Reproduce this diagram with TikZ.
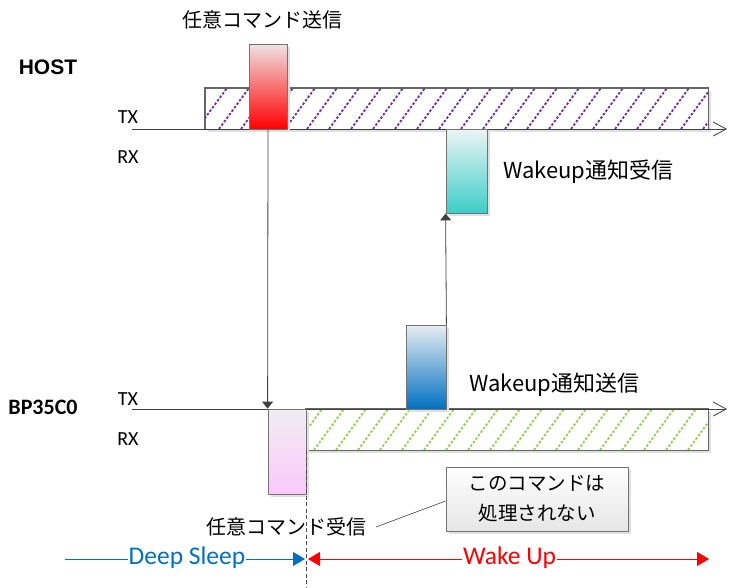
\documentclass[tikz,border=0pt]{standalone}
\usepackage{fontspec}
\setmainfont{Noto Sans CJK JP}
\newfontfamily\latf{Liberation Sans}
\newfontfamily\calf{Carlito}
\usetikzlibrary{arrows.meta,shadows}
\definecolor{hpurple}{HTML}{7030A0}
\definecolor{hgreen}{HTML}{92D050}
\definecolor{dsblue}{HTML}{0070C0}
\definecolor{lineg}{HTML}{404040}
\begin{document}
\begin{tikzpicture}[x=1pt,y=-1pt,
  bar/.style={draw=black!55, line width=0.8pt, inner sep=0pt,
    drop shadow={shadow xshift=3pt, shadow yshift=-3pt, fill=black!12, opacity=1}},
  hbox/.style={draw=black!60, line width=0.8pt, inner sep=0pt, fill=white,
    drop shadow={shadow xshift=3pt, shadow yshift=-3pt, fill=black!12, opacity=1}},
  hatchP/.style={hpurple, line width=1.8pt, dash pattern=on 2.5pt off 1.8pt},
  hatchG/.style={hgreen, line width=1.8pt, dash pattern=on 2.5pt off 1.8pt},
  axis/.style={lineg, line width=0.8pt, -{Straight Barb[length=13pt,width=14pt,line width=0.8pt]}},
  sig/.style={lineg, line width=0.8pt, -{Triangle[length=7pt,width=11pt]}},
  lbl/.style={font=\calf\fontsize{20}{22}\selectfont, inner sep=0pt},
  hostf/.style={font=\latf\bfseries\fontsize{21}{23}\selectfont, inner sep=0pt},
  devf/.style={font=\calf\bfseries\fontsize{22}{24}\selectfont, inner sep=0pt},
  jp/.style={font=\fontsize{20}{24}\selectfont, inner sep=0pt},
  jpl/.style={font=\fontsize{22}{26}\selectfont, inner sep=0pt},
  note/.style={draw=black!55, line width=0.8pt, top color=white, bottom color=black!10,
    minimum width=182pt, minimum height=64pt, align=center, inner sep=0pt,
    font=\fontsize{19.5}{30}\selectfont,
    drop shadow={shadow xshift=3pt, shadow yshift=-3pt, fill=black!12, opacity=1}},
  phase/.style={font=\calf\fontsize{25.5}{27}\selectfont, fill=white, inner sep=1pt}
]
\useasboundingbox (0,0) rectangle (733,587);

% device labels
\node[hostf] (host) at (48,67) {HOST};
\node[devf] (bp) at (43,407) {BP35C0};
\node[lbl] (htx) at (128,117) {TX};
\node[lbl] (hrx) at (128,157) {RX};
\node[lbl] (btx) at (128,399) {TX};
\node[lbl] (brx) at (128,439) {RX};

% host hatched box
\node[hbox, minimum width=503pt, minimum height=41pt] (hostbox) at (456.5,108.5) {};
\begin{scope}
  \clip (hostbox.south west) rectangle (hostbox.north east);
  \foreach \o in {175,197,...,720} \draw[hatchP] (\o,129) -- ++(30,-41);
\end{scope}
\draw[black!60, line width=0.8pt] (hostbox.south west) rectangle (hostbox.north east);

% bp hatched box
\node[hbox, minimum width=402pt, minimum height=41pt] (bpbox) at (507,429.5) {};
\begin{scope}
  \clip (bpbox.south west) rectangle (bpbox.north east);
  \foreach \o in {270,292,...,720} \draw[hatchG] (\o,450) -- ++(30,-41);
\end{scope}
\draw[black!60, line width=0.8pt] (bpbox.south west) rectangle (bpbox.north east);

% TX axes
\coordinate (hA) at (132,129);
\coordinate (hB) at (727,129);
\coordinate (bA) at (132,409);
\coordinate (bB) at (727,409);
\draw[axis] (hA) -- (hB);
\draw[axis] (bA) -- (bB);

% bars
\node[bar, minimum width=38pt, minimum height=85pt, top color={rgb,255:red,240;green,226;blue,228}, bottom color={rgb,255:red,255;green,0;blue,0}] (red) at (268,86.5) {};
\node[bar, minimum width=41pt, minimum height=84pt, top color={rgb,255:red,236;green,244;blue,244}, bottom color={rgb,255:red,60;green,206;blue,200}] (teal) at (466.5,171) {};
\node[bar, minimum width=40pt, minimum height=84pt, top color={rgb,255:red,232;green,238;blue,242}, bottom color={rgb,255:red,0;green,112;blue,192}] (blue) at (426,367) {};
\node[bar, minimum width=38pt, minimum height=85pt, top color={rgb,255:red,240;green,238;blue,242}, bottom color={rgb,255:red,251;green,200;blue,251}] (pink) at (287,451.5) {};

% bar labels
\node[jp] (sendlbl) at (262,20) {任意コマンド送信};
\node[jpl, anchor=west] (wrlbl) at (503,172) {Wakeup通知受信};
\node[jpl, anchor=west] (wslbl) at (469,385) {Wakeup通知送信};

% signal connectors
\draw[sig] (red.south) -- (pink.north west);
\draw[sig] (blue.north east) -- (teal.south west);

% receive label and callout
\node[jp] (recv) at (286.5,527) {任意コマンド受信};
\node[note] (callout) at (537,499) {このコマンドは\\処理されない};
\coordinate (recvtail) at (376,527);
\draw[black!75, line width=0.6pt] (recvtail) -- ([yshift=-2pt]callout.west);

% dashed boundary
\coordinate (dtop) at (306,450);
\coordinate (dbot) at (306,587);
\draw[black!70, line width=0.8pt, dash pattern=on 4pt off 2.5pt] (dtop) -- (dbot);

% phases
\coordinate (ds0) at (65,559);
\coordinate (ds1) at (305,559);
\coordinate (wu0) at (308,559);
\coordinate (wu1) at (709,559);
\draw[dsblue, line width=0.8pt, -{Triangle[length=12pt,width=14pt]}] (ds0) -- (ds1);
\draw[red, line width=0.8pt, {Triangle[length=12pt,width=14pt]}-{Triangle[length=12pt,width=14pt]}] (wu0) -- (wu1);
\node[phase, text=dsblue] (dslbl) at (187,558) {Deep Sleep};
\node[phase, text=red] (wulbl) at (509.5,558) {Wake Up};
\end{tikzpicture}
\end{document}
